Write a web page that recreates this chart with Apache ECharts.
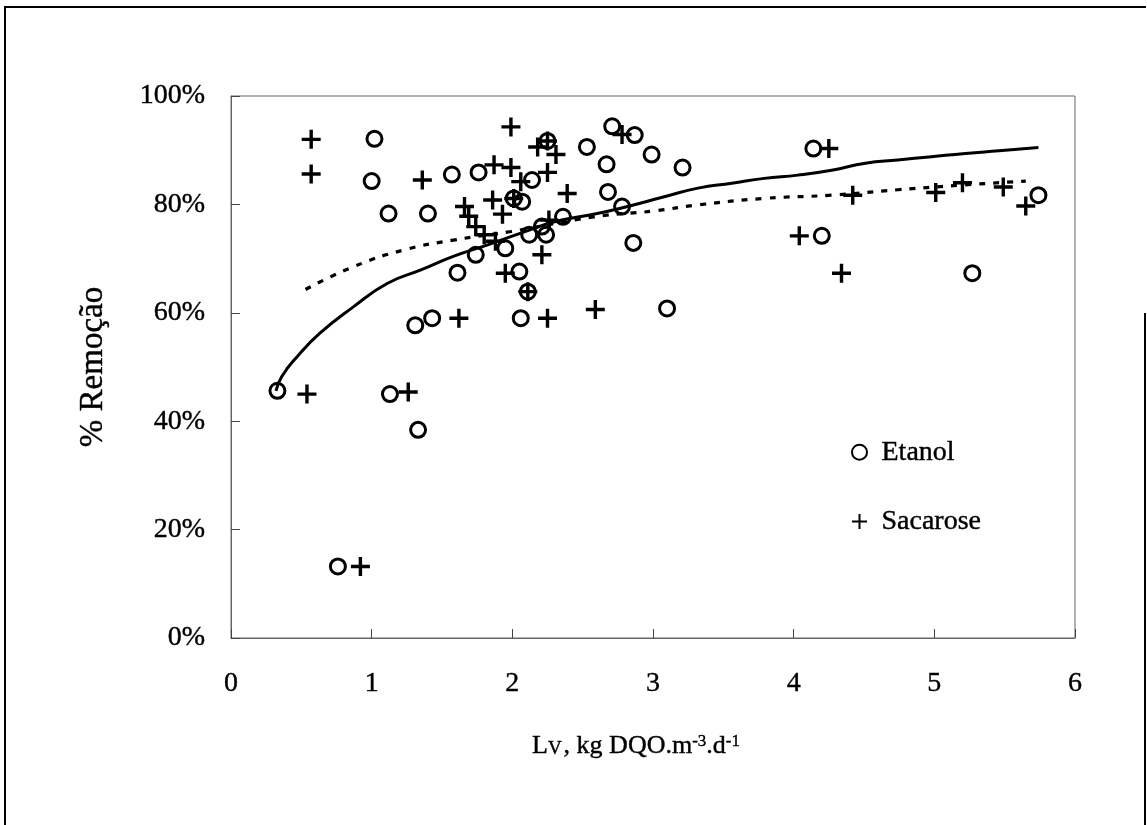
<!DOCTYPE html>
<html>
<head>
<meta charset="utf-8">
<script src="https://cdn.jsdelivr.net/npm/echarts@6/dist/echarts.min.js"></script>
<style>
  html, body { margin: 0; padding: 0; background: #fff; }
  #info { width: 1147px; height: 825px; }
</style>
</head>
<body>
<div id="info"></div>
<script>
// Etanol points (Lv, % remoção)
var etanol_x = [0.33, 0.76, 1.02, 1.00, 1.12, 1.13, 1.33, 1.31, 1.43, 1.40, 1.57, 1.61, 1.74, 1.76, 1.95, 2.01, 2.07, 2.05, 2.06, 2.11,
  2.12, 2.14, 2.21, 2.24, 2.25, 2.36, 2.53, 2.67, 2.68, 2.71, 2.78, 2.86, 2.87, 2.99, 3.10, 3.21, 4.14, 4.20, 5.27, 5.74];
var etanol_y = [45.6, 13.2, 92.1, 84.3, 78.3, 45.0, 38.4, 57.7, 59.0, 78.3, 85.5, 67.4, 70.7, 85.9, 71.9, 81.1, 80.5, 67.6, 59.0, 63.9,
  74.4, 84.5, 75.9, 74.4, 91.7, 77.7, 90.6, 87.4, 82.3, 94.4, 79.6, 72.9, 92.8, 89.2, 60.8, 86.8, 90.3, 74.2, 67.3, 81.7];

// Sacarose points
var sacarose_x = [0.57, 0.57, 0.54, 0.92, 1.26, 1.36, 1.62, 1.66, 1.69, 1.74, 1.80, 1.88, 1.86, 1.87, 1.93, 1.95, 1.99, 1.99, 2.01, 2.06,
  2.11, 2.18, 2.21, 2.25, 2.25, 2.25, 2.26, 2.31, 2.39, 2.59, 2.78, 4.04, 4.25, 4.34, 4.42, 5.01, 5.20, 5.49, 5.65];
var sacarose_y = [92.0, 85.6, 45.0, 13.2, 45.4, 84.5, 59.0, 79.6, 77.8, 75.9, 74.4, 73.2, 80.8, 87.3, 78.2, 67.3, 94.3, 86.8, 81.1, 84.2,
  63.9, 90.6, 70.7, 91.7, 85.9, 59.0, 77.1, 89.2, 82.0, 60.6, 92.9, 74.2, 90.3, 67.3, 81.7, 82.2, 84.0, 83.2, 79.7];

// trend line (solid)
var curva_etanol_x = [0.32, 0.36, 0.47, 0.63, 0.87, 1.11, 1.35, 1.58, 1.82, 2.06, 2.30, 2.54, 2.77, 3.08, 3.32, 3.56, 3.79, 4.03, 4.27, 4.51, 4.74, 4.98, 5.22, 5.46, 5.74];
var curva_etanol_y = [45.6, 48.2, 51.9, 56.2, 61.1, 65.4, 67.9, 70.4, 72.5, 74.7, 76.8, 78.0, 79.3, 81.4, 83.0, 83.9, 84.8, 85.4, 86.3, 87.6, 88.2, 88.8, 89.4, 89.9, 90.5];

// trend line (dashed)
var curva_sacarose_x = [0.53, 0.87, 1.23, 1.58, 1.99, 2.58, 3.01, 3.32, 3.79, 4.27, 4.74, 5.22, 5.65];
var curva_sacarose_y = [64.3, 68.5, 71.6, 73.4, 75.0, 77.7, 78.8, 79.9, 81.1, 81.7, 82.7, 83.6, 84.3];

var x_ticks = [0, 1, 2, 3, 4, 5, 6];
var y_ticks = [0, 20, 40, 60, 80, 100];

function pares(xs, ys) {
  var out = [];
  for (var i = 0; i < xs.length; i++) out.push([xs[i], ys[i]]);
  return out;
}

var fonte = 'Liberation Serif, Times New Roman, serif';
var cruz = 'path://M0,-10 L0,10 M-10,0 L10,0';
// a bit of stroke so text looks like the scanned original
var engrossa = { textBorderColor: '#000', textBorderWidth: 0.4 };

var chart = echarts.init(document.getElementById('info'));
chart.setOption({
  animation: false,
  backgroundColor: '#fff',
  textStyle: { fontFamily: fonte, color: '#000' },
  grid: { left: 231, top: 96, width: 844, height: 542, show: true, borderColor: '#666', borderWidth: 1 },
  legend: {
    data: ['Etanol', 'Sacarose'],
    orient: 'vertical',
    left: 851,
    top: 438,
    padding: 0,
    itemGap: 41,
    itemWidth: 20,
    itemHeight: 15,
    textStyle: Object.assign({ fontFamily: fonte, fontSize: 28, color: '#000', padding: [0, 0, 0, 7] }, engrossa)
  },
  xAxis: {
    type: 'value',
    min: x_ticks[0],
    max: x_ticks[x_ticks.length - 1],
    interval: 1,
    splitLine: { show: false },
    axisLine: { lineStyle: { color: '#666', width: 1 } },
    axisTick: { inside: true, length: 9, lineStyle: { color: '#444' } },
    axisLabel: Object.assign({ fontFamily: fonte, fontSize: 28, color: '#000', margin: 32 }, engrossa),
    name: '{t|L}{v|V}{t|, kg DQO.m}{s|-3}{t|.d}{s|-1}',
    nameLocation: 'middle',
    nameGap: 95,
    nameTextStyle: {
      padding: [0, 34, 0, 0],
      rich: {
        t: Object.assign({ fontFamily: fonte, fontSize: 26, color: '#000', verticalAlign: 'bottom' }, engrossa),
        v: Object.assign({ fontFamily: fonte, fontSize: 19, color: '#000', verticalAlign: 'bottom', padding: [0, 2, 0, 0] }, engrossa),
        s: Object.assign({ fontFamily: fonte, fontSize: 17, color: '#000', verticalAlign: 'top' }, engrossa)
      }
    }
  },
  yAxis: {
    type: 'value',
    min: y_ticks[0],
    max: y_ticks[y_ticks.length - 1],
    interval: 20,
    splitLine: { show: false },
    axisLine: { lineStyle: { color: '#666', width: 1 } },
    axisTick: { inside: true, length: 9, lineStyle: { color: '#444' } },
    axisLabel: Object.assign({ fontFamily: fonte, fontSize: 28, color: '#000', margin: 26, formatter: '{value}%' }, engrossa),
    name: '% Remoção',
    nameLocation: 'middle',
    nameGap: 121,
    nameTextStyle: Object.assign({ fontFamily: fonte, fontSize: 33, color: '#000' }, engrossa)
  },
  graphic: [
    { type: 'polyline', shape: { points: [[5, 830], [5, 7], [1146, 7]] }, style: { stroke: '#000', lineWidth: 2, fill: null } },
    { type: 'line', shape: { x1: 1145, y1: 313, x2: 1145, y2: 830 }, style: { stroke: '#000', lineWidth: 2 } }
  ],
  series: [
    {
      name: 'curva etanol',
      type: 'line',
      data: pares(curva_etanol_x, curva_etanol_y),
      smooth: true,
      showSymbol: false,
      lineStyle: { color: '#000', width: 3 },
      z: 1
    },
    {
      name: 'curva sacarose',
      type: 'line',
      data: pares(curva_sacarose_x, curva_sacarose_y),
      smooth: true,
      showSymbol: false,
      lineStyle: { color: '#000', width: 3.2, type: [6, 8] },
      z: 1
    },
    {
      name: 'Etanol',
      type: 'scatter',
      data: pares(etanol_x, etanol_y),
      symbol: 'circle',
      symbolSize: 15,
      itemStyle: { color: 'rgba(255,255,255,0)', borderColor: '#000', borderWidth: 3, opacity: 1 },
      z: 3
    },
    {
      name: 'Sacarose',
      type: 'scatter',
      data: pares(sacarose_x, sacarose_y),
      symbol: cruz,
      symbolSize: 19,
      itemStyle: { color: '#000', borderColor: '#000', borderWidth: 3.4, opacity: 1 },
      z: 4
    }
  ]
});
</script>
</body>
</html>
